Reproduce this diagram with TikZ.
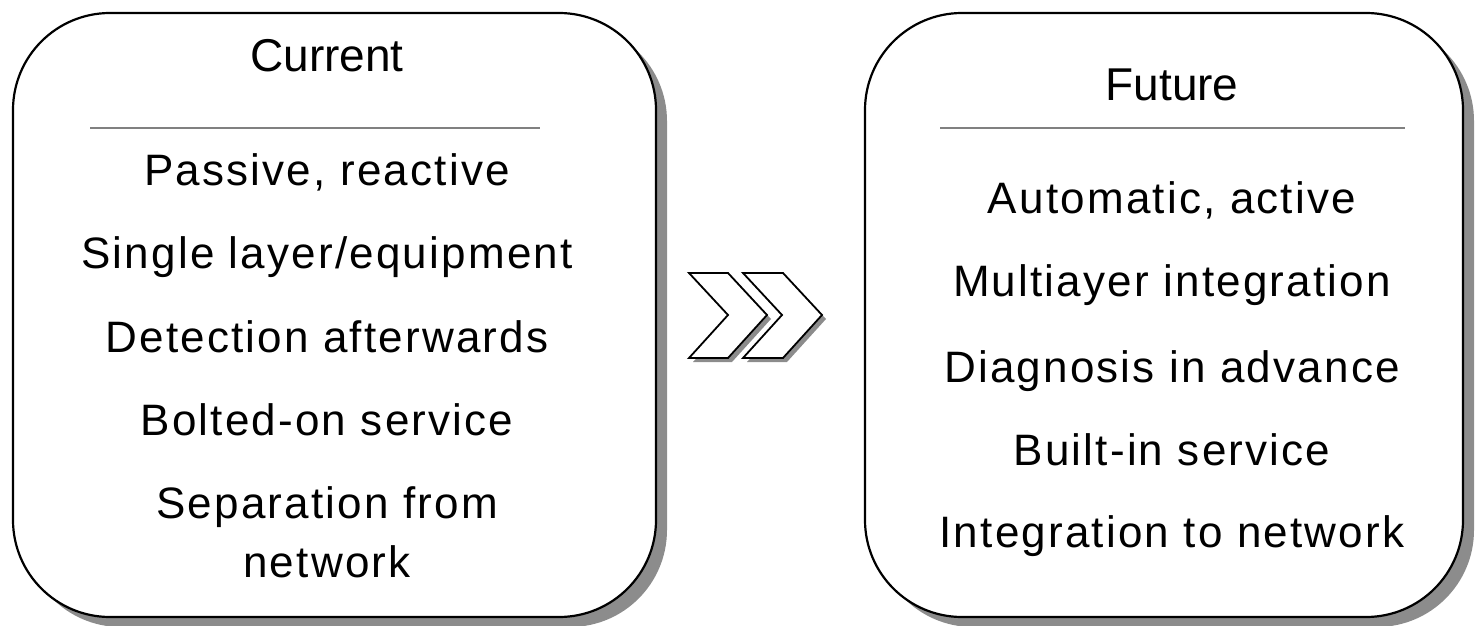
\documentclass[tikz,border=0pt]{standalone}
\usepackage{fontspec}
\setmainfont{Liberation Sans}
\newfontfamily\bodyfont[LetterSpace=5]{Liberation Sans}
\begin{document}
\begin{tikzpicture}[x=1pt,y=-1pt,
  panel/.style={draw=black,line width=2.2pt,fill=white,rounded corners=97pt},
  panelshadow/.style={fill=black!45,rounded corners=97pt},
  chev/.style={draw=black,line width=1.8pt,fill=white,line join=miter},
  chevshadow/.style={fill=black!45},
  sepline/.style={draw=black!50,line width=1.8pt},
  title/.style={anchor=base,inner sep=0pt,font=\fontsize{46}{50}\selectfont},
  item/.style={anchor=base,inner sep=0pt,font=\bodyfont\fontsize{44}{50}\selectfont}]
\useasboundingbox (0,0) rectangle (1475,626);
% left panel
\fill[panelshadow] (24,24) rectangle (667,627);
\draw[panel] (13,13) rectangle (656,617);
% right panel
\fill[panelshadow] (876,24) rectangle (1474,627);
\draw[panel] (865,13) rectangle (1463,617);
% chevrons
\fill[chevshadow] (693,277) -- (732,277) -- (771,319) -- (732,362) -- (693,362) -- (732,319) -- cycle;
\draw[chev] (689,273) -- (728,273) -- (767,315) -- (728,358) -- (689,358) -- (728,315) -- cycle;
\fill[chevshadow] (747,277) -- (787,277) -- (826,319) -- (787,362) -- (747,362) -- (786,319) -- cycle;
\draw[chev] (743,273) -- (783,273) -- (822,315) -- (783,358) -- (743,358) -- (782,315) -- cycle;
% left texts
\node[title] (curt) at (327,72) {Current};
\coordinate (l1a) at (90,128); \coordinate (l1b) at (540,128);
\draw[sepline] (l1a) -- (l1b);
\node[item] (c1) at (327,185) {Passive, reactive};
\node[item] (c2) at (327,268) {Single layer/equipment};
\node[item] (c3) at (327,352) {Detection afterwards};
\node[item] (c4) at (327,435) {Bolted-on service};
\node[item] (c5) at (327,518) {Separation from};
\node[item] (c6) at (327,577) {network};
% right texts
\node[title] (futt) at (1172,100) {Future};
\coordinate (r1a) at (940,128); \coordinate (r1b) at (1405,128);
\draw[sepline] (r1a) -- (r1b);
\node[item] (f1) at (1172,213) {Automatic, active};
\node[item] (f2) at (1172,296) {Multiayer integration};
\node[item] (f3) at (1172,382) {Diagnosis in advance};
\node[item] (f4) at (1172,465) {Built-in service};
\node[item] (f5) at (1172,547) {Integration to network};
\end{tikzpicture}
\end{document}
